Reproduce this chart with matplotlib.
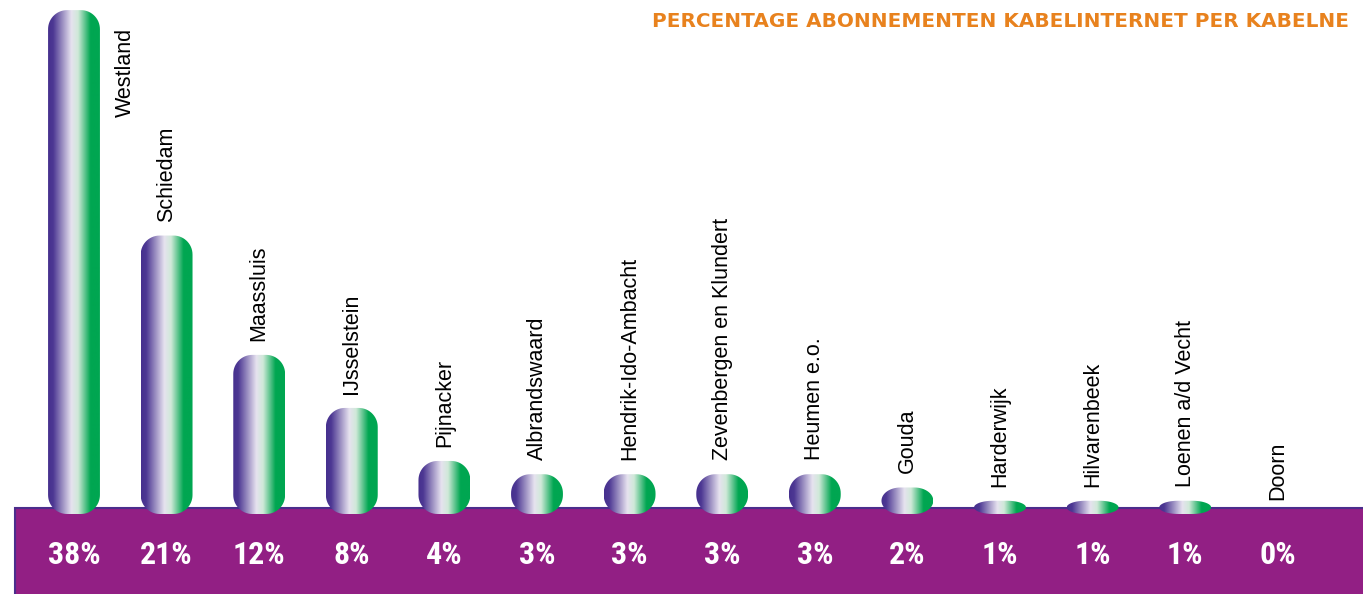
import numpy as np
import matplotlib
matplotlib.use("Agg")
import matplotlib.pyplot as plt
from matplotlib.path import Path
from matplotlib.patches import PathPatch, Rectangle
from matplotlib.colors import LinearSegmentedColormap

# data
gemeenten = ["Westland", "Schiedam", "Maassluis", "IJsselstein", "Pijnacker",
             "Albrandswaard", "Hendrik-Ido-Ambacht", "Zevenbergen en Klundert",
             "Heumen e.o.", "Gouda", "Harderwijk", "Hilvarenbeek",
             "Loenen a/d Vecht", "Doorn"]
percentages = [38, 21, 12, 8, 4, 3, 3, 3, 3, 2, 1, 1, 1, 0]
pct_labels = [f"{p}%" for p in percentages]
title = "PERCENTAGE ABONNEMENTEN KABELINTERNET PER KABELNE"

cond = ["Roboto Condensed", "DejaVu Sans"]

bar_cmap = LinearSegmentedColormap.from_list(
    "paars_groen",
    [(0.0, "#46308e"), (0.10, "#4d3893"), (0.45, "#e6e2ef"),
     (0.58, "#cfe9d8"), (0.82, "#00a651"), (1.0, "#00a651")])

W, H = 1363, 594
fig = plt.figure(figsize=(W / 100, H / 100), dpi=100)
ax = fig.add_axes([0, 0, 1, 1])
ax.axis("off")

# layout: 92.6 px per category, 13.26 px per percent, zero line 80 px from bottom
step, ppp = 92.6, 13.26
ax.set_xlim(-74 / step, (W - 74) / step)
ax.set_ylim(-80 / ppp, (H - 80) / ppp)

p0 = ax.transData.transform((0, 0))
p1 = ax.transData.transform((1, 1))
sx, sy = p1 - p0

# purple band at the bottom
band = Rectangle((15 / W, -0.02), 1.05, 86 / H + 0.02, transform=ax.transAxes,
                 facecolor="#921f84", edgecolor="#4b2d8c", lw=1.5,
                 clip_on=False, zorder=1)
ax.add_patch(band)


def rounded_bar(xc, h, width=0.56, rpx=19):
    """rounded rectangle (data coords) with corners round in pixels"""
    hw = width / 2
    rx = min(rpx / sx, hw)
    ry = min(rpx, h * sy / 2) / sy
    x0, x1 = xc - hw, xc + hw
    t = np.linspace(0, np.pi / 2, 16)
    pts = []
    # bottom-right, top-right, top-left, bottom-left
    for cx, cy, a0 in [(x1 - rx, ry, -np.pi / 2), (x1 - rx, h - ry, 0),
                       (x0 + rx, h - ry, np.pi / 2), (x0 + rx, ry, np.pi)]:
        a = a0 + t
        pts += list(zip(cx + rx * np.cos(a), cy + ry * np.sin(a)))
    pts.append(pts[0])
    codes = [Path.MOVETO] + [Path.LINETO] * (len(pts) - 2) + [Path.CLOSEPOLY]
    return Path(pts, codes)


grad = np.linspace(0, 1, 256).reshape(1, -1)
for i, v in enumerate(percentages):
    if v > 0:
        patch = PathPatch(rounded_bar(i, v), facecolor="none", edgecolor="none")
        ax.add_patch(patch)
        im = ax.imshow(grad, cmap=bar_cmap, aspect="auto", zorder=3,
                       extent=[i - 0.28, i + 0.28, 0, v], interpolation="bilinear")
        im.set_clip_path(patch)

    if i == 0:
        # tallest bar: name sits next to it
        ax.annotate(gemeenten[i], (i, v), xytext=(51, -18),
                    textcoords="offset pixels", rotation=90, ha="center",
                    va="top", fontsize=15.5, family="Liberation Sans")
    else:
        ax.annotate(gemeenten[i], (i, v), xytext=(0, 14),
                    textcoords="offset pixels", rotation=90, ha="center",
                    va="bottom", fontsize=15.5, family="Liberation Sans")

    ax.annotate(pct_labels[i], (i, 0), xytext=(0, -41),
                textcoords="offset pixels", ha="center", va="center",
                color="white", fontsize=23, fontweight="bold", family=cond)

ax.set_xlim(-74 / step, (W - 74) / step)
ax.set_ylim(-80 / ppp, (H - 80) / ppp)

fig.text(652 / W, 1 - 27 / H, title, color="#e8821e", fontsize=14.4,
         fontweight="bold", family="DejaVu Sans", ha="left", va="baseline")

fig.savefig("out.png", dpi=100)
